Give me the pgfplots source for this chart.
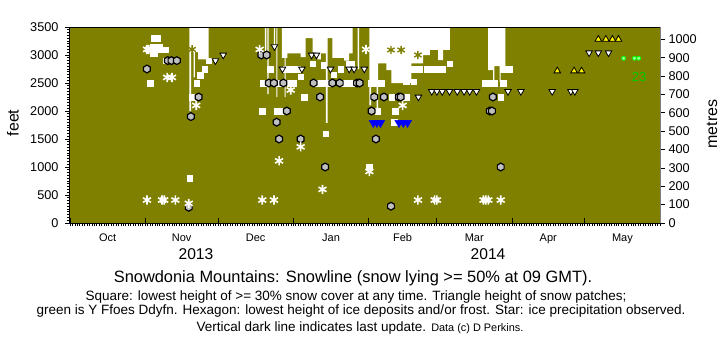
\documentclass[border=0pt]{standalone}
\usepackage{pgfplots}
\pgfplotsset{compat=1.18}
\usepackage{fontspec}
\setmainfont{Liberation Sans}
\definecolor{olivebg}{RGB}{128,128,0}
\definecolor{hexgrey}{RGB}{192,192,192}
\definecolor{ffgreen}{RGB}{0,255,0}
\definecolor{txtgreen}{RGB}{0,204,0}
\pgfdeclareplotmark{hexagon}{%
  \pgfpathmoveto{\pgfpointpolar{90}{\pgfplotmarksize}}%
  \pgfpathlineto{\pgfpointpolar{150}{\pgfplotmarksize}}%
  \pgfpathlineto{\pgfpointpolar{210}{\pgfplotmarksize}}%
  \pgfpathlineto{\pgfpointpolar{270}{\pgfplotmarksize}}%
  \pgfpathlineto{\pgfpointpolar{330}{\pgfplotmarksize}}%
  \pgfpathlineto{\pgfpointpolar{30}{\pgfplotmarksize}}%
  \pgfpathclose
  \pgfusepathqfillstroke
}
\begin{document}
\begin{tikzpicture}
\useasboundingbox (-70bp,-128bp) rectangle (651bp,223bp);
\begin{axis}[
  at={(0,0)}, anchor=south west,
  scale only axis, width=590bp, height=196bp,
  xmin=0, xmax=243, ymin=0, ymax=3500,
  axis background/.style={fill=olivebg},
  axis on top,
  xtick={0,31,61,92,123,151,182,212,243},
  xticklabels={},
  minor xtick={0,1,...,243},
  xtick pos=left, ytick pos=left,
  xtick align=inside, ytick align=outside,
  major tick length=5bp, minor tick length=3bp,
  minor x tick style={yshift=-3bp},
  ytick={0,500,...,3500},
  minor y tick num=9,
  scaled y ticks=false,
  /pgf/number format/1000 sep={},
  /pgf/number format/assume math mode=true,
  yticklabel style={font=\fontsize{12.7bp}{14bp}\selectfont, xshift=-3bp},
  tick style={black, line width=0.7bp},
  axis line style={line width=1bp},
]
% snow-covered area (white), snowline to top
\addplot[fill=white, draw=none, const plot, forget plot] coordinates {
(49.2,3500) (49.2,2000) (49.9,3050) (50.9,2600) (51.4,3050) (52.8,2920) (57.1,3500)};
\addplot[fill=white, draw=none, const plot, forget plot] coordinates {
(80.3,3500) (80.3,3000) (80.9,3500) (81.3,2300) (81.8,3500) (84.0,3150) (84.5,3500)
(85.0,2250) (85.4,3500) (87.3,2950) (88.4,2250) (88.8,2950) (89.5,3030) (95,2960)
(97,3300) (99.9,3030) (101.9,2920) (103.3,3030) (105.4,1790) (106.1,3300) (108.1,2950)
(112.9,2900) (115,3030) (116.4,3500) (118.5,2750) (119.1,3500) (123.3,2100) (124,2550)
(126.3,2020) (126.9,2850) (130.3,2730) (132.4,2500) (140.6,2850) (145.4,3000)
(148.2,3090) (151.6,2910) (153.7,3090) (156.5,3500)};
\addplot[fill=white, draw=none, const plot, forget plot] coordinates {
(172.2,3500) (172.2,2730) (174.3,2520) (174.8,2800) (176.9,2520) (177.4,2760) (179.3,3500)};
% squares: lowest height of >= 30% snow cover
\addplot[only marks, mark=square*, mark size=2.7bp, white] coordinates {
(34.5,3300) (36,3300) (34,3150) (35,3150) (36,3150) (37,3150)
(37.5,3100) (38.5,3100) (39.5,3100) (34,3030) (35,3030) (33,2500) (39.4,2900)
(50.3,2250) (52.3,2500) (53.7,2640) (55.5,2750) (57.2,2900) (49.2,800)
(79.2,2000) (85.4,2000) (86.8,2000) (82.4,2750) (79.6,2500) (86,2500) (90.6,2500) (92,2500)
(89,2750) (90.5,2750) (92,2750) (93.5,2750) (95,2610) (96.4,2250) (100,2850)
(102,2500) (103.5,2500) (105,2500) (106.5,2500) (113,2500) (114.5,2500) (116,2500)
(104.4,2820) (108.5,2650) (111.5,2750) (115,2850) (116,2850) (105.4,1600) (123.3,1000)
(124,2500) (125.5,2500) (127,2500) (128.5,2500) (126.7,2000)
(132.5,2250) (138.4,2250) (133.6,1800) (134,2000)
(141.2,2750) (143.9,2750) (147.1,2750) (149.9,2750) (152.2,2750) (153.6,2750)
(156.3,2850) (138.4,2520) (141.5,2520)
(171,2500) (172.9,2500) (174.7,2500) (178.4,2500) (178.4,2750) (181,2750) (177.4,2250)};
% triangles: height of snow patches
\addplot[only marks, mark=triangle*, mark size=3.8bp,
  mark options={rotate=180, fill=white, draw=black, line width=0.8bp}] coordinates {
(59.9,2900) (63.1,3000) (84.2,3150) (87.5,2750) (95.5,2750) (99.5,3000) (101.5,3000)
(107.3,2750) (115,2750) (117,2750) (121.2,2750) (143.5,2250)
(149,2350) (151.1,2350) (153.3,2350) (156.3,2350) (159.5,2350) (162.3,2350) (164.6,2350) (167.4,2350)
(180.4,2350) (185.7,2350) (198.6,2350) (206.3,2350) (207.9,2350)
(213.8,3040) (217.6,3040) (221.8,3040)};
\addplot[only marks, mark=triangle*, mark size=4.8bp,
  mark options={rotate=180, fill=blue, draw=blue}] coordinates {
(124.9,1790) (126.4,1790) (127.9,1790) (135.5,1790) (137.3,1790) (139,1790)};
\addplot[only marks, mark=triangle*, mark size=3.8bp,
  mark options={fill=yellow, draw=black, line width=0.8bp}] coordinates {
(200.7,2715) (207.6,2715) (210.7,2715) (217.6,3280) (220.7,3280) (223.4,3280) (225.9,3280)};
\addplot[only marks, mark=*, mark size=2bp,
  mark options={fill=ffgreen!40!white, draw=ffgreen, line width=0.8bp}] coordinates {
(228,2941) (232.5,2941) (234.2,2941)};
% hexagons: lowest height of ice deposits / frost
\addplot[only marks, mark=hexagon, mark size=3.9bp,
  mark options={fill=hexgrey, draw=black, line width=1.2bp}] coordinates {
(31.7,2750) (40.3,2900) (41.8,2900) (44,2900) (49.8,1900) (53,2250) (48.9,280)
(78.8,3000) (81,3000) (81.9,2500) (84,2500) (87.9,2500) (89.3,2000) (85.1,1800)
(86.1,1500) (95,1500) (100.3,2500) (108.1,2500) (111.1,2500) (118.2,2500) (119.3,2500)
(103,2250) (105.1,1000) (124.2,2000) (125.3,2250) (129.3,2250) (135.4,2250) (136.2,2250)
(126,1500) (132.2,300) (172.9,2000) (173.8,2000) (174.2,2250) (177.4,1000)};
% stars: ice precipitation observed
\addplot[only marks, mark=asterisk, mark size=4.6bp, mark options={white, line width=1.6bp}] coordinates {
(31.7,3100) (32.5,3100) (40,2600) (42,2600) (52,2100)
(31.7,410) (37.9,410) (38.8,410) (43.4,410) (48.9,350)
(78.1,3100) (90.9,2375) (86.1,1110) (95,1360) (104,600) (79.2,410) (84,410)
(121.9,3100) (123.3,920) (137,2100) (143.3,410) (150.2,410) (151.1,410)
(170.3,410) (171.3,410) (172.3,410) (177.4,410)};
\addplot[only marks, mark=asterisk, mark size=4.2bp, mark options={olivebg, line width=1.4bp}] coordinates {
(50.3,3100) (132.2,3090) (136.4,3090) (143.3,3000)};
\end{axis}
\begin{axis}[
  at={(0,0)}, anchor=south west,
  scale only axis, width=590bp, height=196bp,
  xmin=0, xmax=243, ymin=0, ymax=1066.8,
  axis x line=none, axis y line*=right,
  ytick={0,100,...,1000},
  ytick align=outside, major tick length=5bp,
  scaled y ticks=false,
  /pgf/number format/1000 sep={},
  /pgf/number format/assume math mode=true,
  yticklabel style={font=\fontsize{12.7bp}{14bp}\selectfont},
  tick style={black, line width=0.7bp},
  axis line style={line width=1bp, gray},
]
\addplot[draw=none] coordinates {(0,0) (243,1000)};
\end{axis}
\node[txtgreen, font=\fontsize{13bp}{15bp}\selectfont] at (569bp,146bp) {23};
\node[font=\fontsize{16bp}{18bp}\selectfont, rotate=90] at (-57bp,100bp) {feet};
\node[font=\fontsize{16bp}{18bp}\selectfont, rotate=90] at (642bp,99bp) {metres};
\foreach \x/\m in {37.6/Oct,111.7/Nov,185.7/Dec,261/Jan,332.6/Feb,404.3/Mar,478.3/Apr,552.4/May}
  \node[anchor=base, font=\fontsize{11bp}{13bp}\selectfont] at (\x bp,-18.5bp) {\m};
\node[anchor=base, font=\fontsize{15.6bp}{17bp}\selectfont] at (126bp,-36.3bp) {2013};
\node[anchor=base, font=\fontsize{15.6bp}{17bp}\selectfont] at (418bp,-36.3bp) {2014};
\node[anchor=base, font=\fontsize{16.4bp}{18bp}\selectfont] at (283bp,-59.7bp)
  {Snowdonia Mountains: Snowline (snow lying >= 50\% at 09 GMT).};
\node[anchor=base, font=\fontsize{13.5bp}{15bp}\selectfont] at (286bp,-77bp)
  {Square: lowest height of >= 30\% snow cover at any time. Triangle height of snow patches;};
\node[anchor=base, font=\fontsize{13.5bp}{15bp}\selectfont] at (291bp,-91.3bp)
  {green is Y Ffoes Ddyfn. Hexagon: lowest height of ice deposits and/or frost. Star: ice precipitation observed.};
\node[anchor=base, font=\fontsize{13.5bp}{15bp}\selectfont] at (290bp,-108bp)
  {Vertical dark line indicates last update. {\fontsize{10.9bp}{12bp}\selectfont Data (c) D Perkins.}};
\end{tikzpicture}
\end{document}
